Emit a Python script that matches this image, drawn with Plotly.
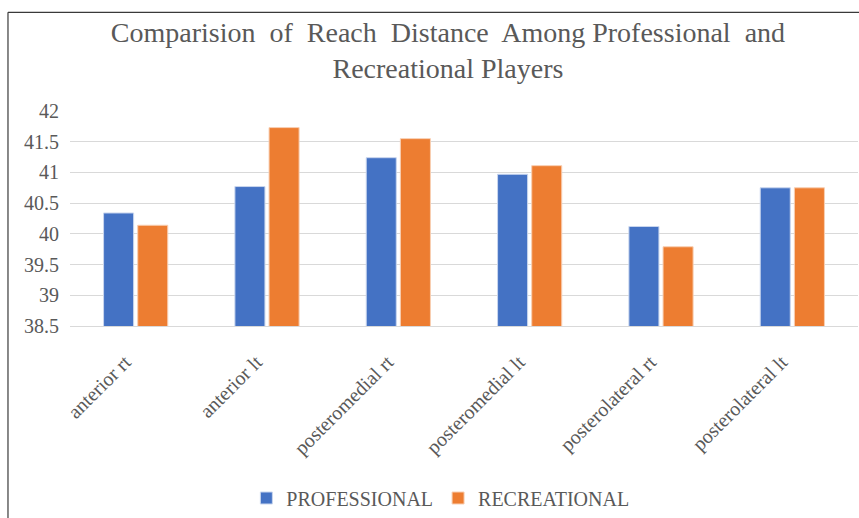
import plotly.graph_objects as go

categories = ["anterior rt", "anterior lt", "posteromedial rt", "posteromedial lt",
              "posterolateral rt", "posterolateral lt"]
professional = [40.34, 40.77, 41.24, 40.97, 40.12, 40.75]
recreational = [40.14, 41.73, 41.55, 41.11, 39.79, 40.75]
y_ticks = [38.5, 39, 39.5, 40, 40.5, 41, 41.5, 42]

FONT = "'Liberation Serif', 'Times New Roman', Times, serif"
GRAY = "#595959"

fig = go.Figure()
fig.add_trace(go.Bar(name="PROFESSIONAL", x=categories, y=professional,
                     marker=dict(color="#4472C4", line=dict(color="#c9d6ee", width=1))))
fig.add_trace(go.Bar(name="RECREATIONAL", x=categories, y=recreational,
                     marker=dict(color="#ED7D31", line=dict(color="#f8cfb3", width=1))))

fig.update_layout(
    width=859, height=518,
    margin=dict(l=70, r=1, t=111, b=190),
    paper_bgcolor="white", plot_bgcolor="white",
    barmode="group", bargap=0.48, bargroupgap=0.12,
    title=dict(text="Comparision  of  Reach  Distance  Among Professional  and<br>Recreational Players",
               x=0.5215, xanchor="center", xref="container",
               y=1 - 42 / 518, yanchor="middle", yref="container",
               font=dict(family=FONT, size=28, color=GRAY)),
    font=dict(family=FONT, color=GRAY),
    showlegend=True,
    legend=dict(orientation="h", x=0.47, xanchor="center", y=-0.80, yanchor="middle",
                font=dict(family=FONT, size=20, color=GRAY), itemwidth=30,
                traceorder="normal"),
)
fig.update_yaxes(range=[38.5, 42], tickvals=y_ticks, ticktext=[f"{v:g}" for v in y_ticks],
                 showgrid=True, gridcolor="#d9d9d9", gridwidth=1,
                 zeroline=False, showline=False,
                 ticks="outside", ticklen=6, tickcolor="rgba(0,0,0,0)",
                 tickfont=dict(family=FONT, size=20, color=GRAY))
fig.update_xaxes(tickangle=-45, showline=True, linecolor="#d9d9d9", linewidth=1,
                 ticks="", ticklabelstandoff=5,
                 tickvals=categories, ticktext=[c + "\u00a0\u00a0\u00a0" for c in categories],
                 tickfont=dict(family=FONT, size=20, color=GRAY))

# outer chart border (left and top)
fig.add_shape(type="line", xref="paper", yref="paper", x0=-0.0787, x1=-0.0787,
              y0=-0.95, y1=1.459, line=dict(color="#3a3a3a", width=1.2))
fig.add_shape(type="line", xref="paper", yref="paper", x0=-0.0787, x1=1.01,
              y0=1.459, y1=1.459, line=dict(color="#3a3a3a", width=1.2))

fig.write_html("out.html")
